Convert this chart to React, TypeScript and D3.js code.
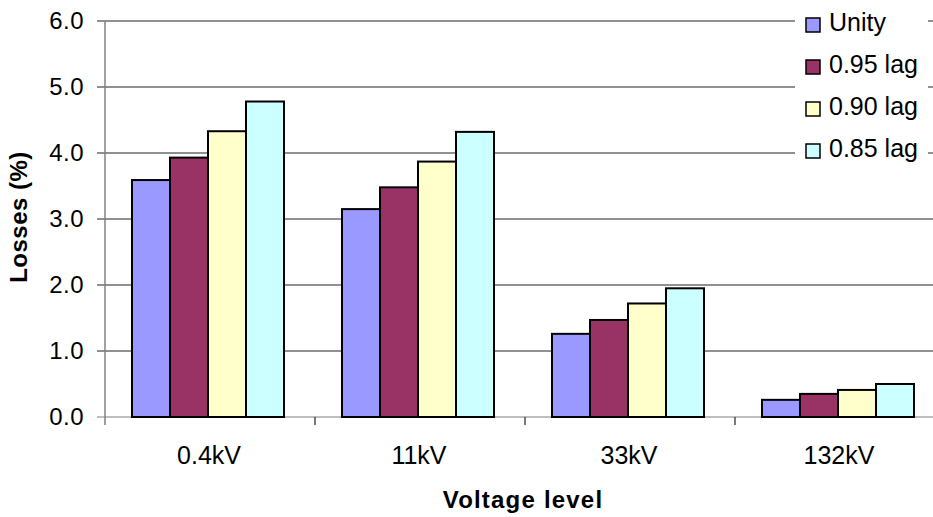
import React from "react";
import * as d3 from "d3";

const categories = ["0.4kV", "11kV", "33kV", "132kV"];
const seriesNames = ["Unity", "0.95 lag", "0.90 lag", "0.85 lag"];
const unity = [3.59, 3.15, 1.26, 0.26];
const lag095 = [3.93, 3.48, 1.47, 0.35];
const lag090 = [4.33, 3.87, 1.72, 0.41];
const lag085 = [4.78, 4.32, 1.95, 0.5];
const seriesValues = [unity, lag095, lag090, lag085];
const colors = ["#9999FF", "#993366", "#FFFFCC", "#CCFFFF"];
const yTicks = [0, 1, 2, 3, 4, 5, 6];

export default function App() {
  const W = 933, H = 517;
  const left = 105, right = 945, top = 21, bottom = 417;
  const x = d3.scaleBand<string>().domain(categories).range([left, right]).paddingInner(0).paddingOuter(0);
  const inner = d3.scaleBand<string>().domain(seriesNames).range([27, 27 + 152]);
  const y = d3.scaleLinear().domain([0, 6]).range([bottom, top]);
  const font = "'Liberation Sans', Arial, sans-serif";
  return (
    <svg width={W} height={H} style={{ position: "absolute", left: 0, top: 0 }} fontFamily={font}>
      <rect width={W} height={H} fill="#fff" />
      {yTicks.map((t) => (
        <g key={t}>
          <line x1={97} x2={right} y1={y(t)} y2={y(t)} stroke={t === 0 ? "#808080" : "#222"} strokeWidth={1.2} />
          <text x={84} y={y(t)} dy="0.35em" textAnchor="end" fontSize={24} letterSpacing={0.5} fill="#000">{t.toFixed(1)}</text>
        </g>
      ))}
      <line x1={left} x2={left} y1={top} y2={bottom + 8} stroke="#808080" strokeWidth={1.5} />
      {categories.map((c, i) => (
        <g key={c}>
          {i > 0 && <line x1={x(c)!} x2={x(c)!} y1={bottom} y2={bottom + 8} stroke="#222" strokeWidth={1.2} />}
          <text x={x(c)! + x.bandwidth() / 2 - 1} y={464} textAnchor="middle" fontSize={25} fill="#000">{c}</text>
        </g>
      ))}
      {seriesValues.map((vals, si) =>
        vals.map((v, ci) => (
          <rect key={`${si}-${ci}`}
            x={x(categories[ci])! + inner(seriesNames[si])!}
            y={y(v)} width={inner.bandwidth()} height={y(0) - y(v)}
            fill={colors[si]} stroke="#000" strokeWidth={2} />
        ))
      )}
      <rect x={795} y={0} width={133} height={170} fill="#fff" />
      {seriesNames.map((s, i) => (
        <g key={s}>
          <rect x={806} y={18 + i * 42} width={14} height={14} fill={colors[i]} stroke="#000" strokeWidth={1.5} />
          <text x={829} y={31 + i * 42} fontSize={25} fill="#000">{s}</text>
        </g>
      ))}
      <text transform={`translate(27,${217}) rotate(-90)`} textAnchor="middle" fontSize={24} fontWeight="bold" letterSpacing={0.5} fill="#000">Losses (%)</text>
      <text x={523} y={508} textAnchor="middle" fontSize={24} fontWeight="bold" letterSpacing={1.2} fill="#000">Voltage level</text>
    </svg>
  );
}
